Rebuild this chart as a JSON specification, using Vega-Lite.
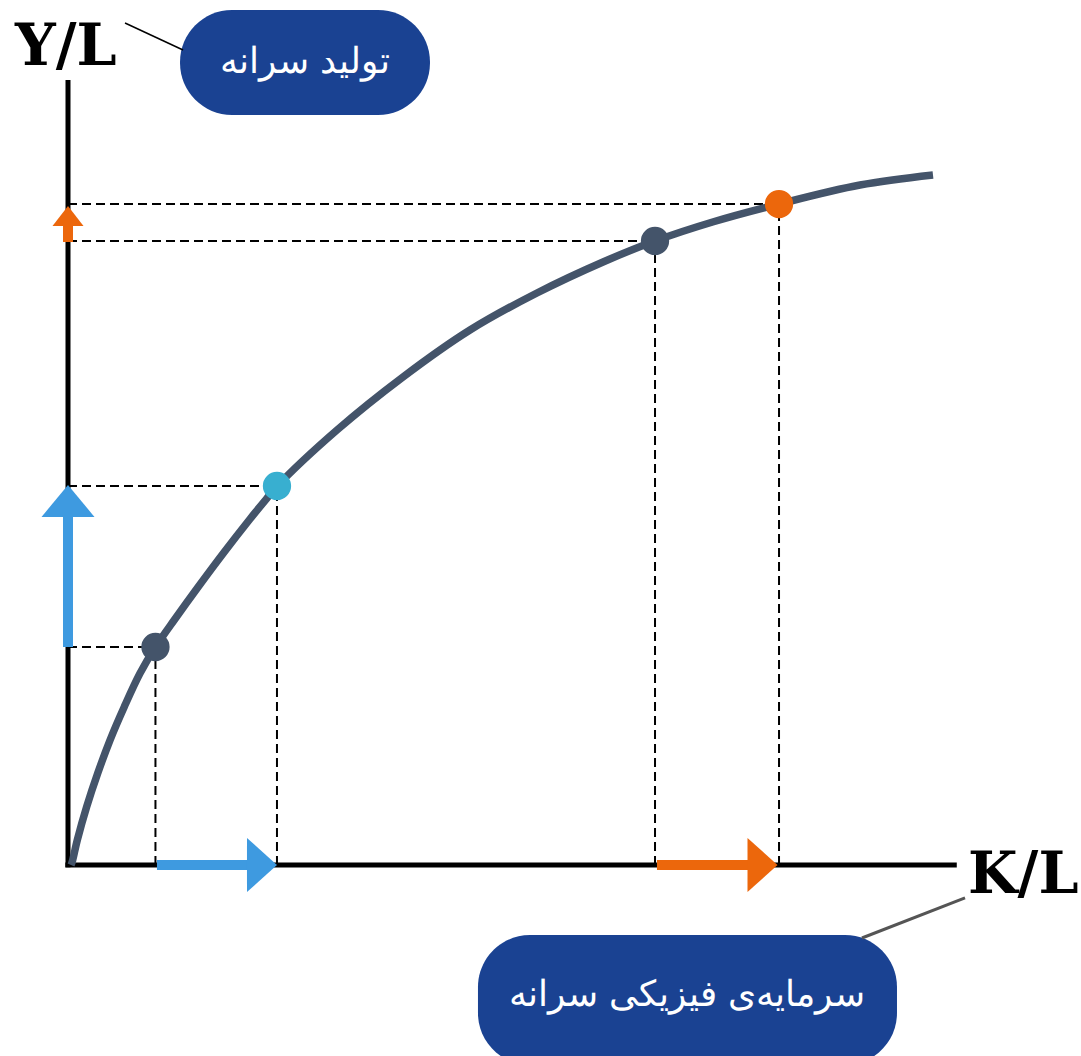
{
  "$schema": "https://vega.github.io/schema/vega-lite/v6.json",
  "width": 1081,
  "height": 1056,
  "autosize": {"type": "fit", "contains": "padding"},
  "padding": 0,
  "background": "white",
  "config": {"view": {"stroke": null}},
  "encoding": {
    "x": {"field": "x", "type": "quantitative", "scale": {"domain": [-7.666, 114.205], "nice": false, "zero": false}, "axis": null},
    "y": {"field": "y", "type": "quantitative", "scale": {"domain": [-24.331, 110.191], "nice": false, "zero": false}, "axis": null}
  },
  "layer": [
    {
      "data": {"values": [
        {"x": 12.63, "x2": 40.81, "y": 108.92, "y2": 95.54},
        {"x": 46.22, "x2": 93.46, "y": -8.92, "y2": -25.48}
      ]},
      "mark": {"type": "rect", "cornerRadius": 52, "color": "#1A4292", "clip": true},
      "encoding": {"x2": {"field": "x2"}, "y2": {"field": "y2"}}
    },
    {
      "data": {"values": [
        {"x": 6.43, "x2": 12.97, "y": 107.26, "y2": 103.82, "kind": "top"},
        {"x": 89.51, "x2": 101.13, "y": -9.30, "y2": -4.20, "kind": "bottom"}
      ]},
      "mark": {"type": "rule"},
      "encoding": {
        "x2": {"field": "x2"}, "y2": {"field": "y2"},
        "color": {"field": "kind", "type": "nominal", "scale": {"domain": ["blue", "orange", "dark", "cyan", "top", "bottom"], "range": ["#3E9AE0", "#EC670C", "#44546A", "#38AFD0", "#000000", "#555555"]}, "legend": null},
        "strokeWidth": {"field": "kind", "type": "nominal", "scale": {"domain": ["top", "bottom"], "range": [1.5, 3]}, "legend": null}
      }
    },
    {
      "data": {"values": [
        {"x": 0, "x2": 9.86, "y": 27.77, "y2": 27.77},
        {"x": 0, "x2": 23.56, "y": 48.28, "y2": 48.28},
        {"x": 0, "x2": 66.18, "y": 79.49, "y2": 79.49},
        {"x": 0, "x2": 80.16, "y": 84.20, "y2": 84.20},
        {"x": 9.86, "x2": 9.86, "y": 0, "y2": 27.77},
        {"x": 23.56, "x2": 23.56, "y": 0, "y2": 48.28},
        {"x": 66.18, "x2": 66.18, "y": 0, "y2": 79.49},
        {"x": 80.16, "x2": 80.16, "y": 0, "y2": 84.20}
      ]},
      "mark": {"type": "rule", "color": "#000000", "strokeWidth": 2, "strokeDash": [9, 5]},
      "encoding": {"x2": {"field": "x2"}, "y2": {"field": "y2"}}
    },
    {
      "data": {"values": [
        {"x": 0, "x2": 0, "y": -0.3, "y2": 100},
        {"x": -0.3, "x2": 100.2, "y": 0, "y2": 0}
      ]},
      "mark": {"type": "rule", "color": "#000000", "strokeWidth": 5},
      "encoding": {"x2": {"field": "x2"}, "y2": {"field": "y2"}}
    },
    {
      "data": {"values": [
        {"x": 0.34, "y": 0},
        {"x": 0.48, "y": 0.42},
        {"x": 1.05, "y": 3.18},
        {"x": 2.11, "y": 7.43},
        {"x": 3.35, "y": 11.68},
        {"x": 4.74, "y": 15.92},
        {"x": 6.35, "y": 20.17},
        {"x": 8.12, "y": 24.42},
        {"x": 9.86, "y": 27.77},
        {"x": 12.06, "y": 31.34},
        {"x": 14.69, "y": 35.45},
        {"x": 17.51, "y": 39.72},
        {"x": 20.52, "y": 44.08},
        {"x": 22.40, "y": 46.68},
        {"x": 23.56, "y": 48.24},
        {"x": 30.33, "y": 55.41},
        {"x": 37.77, "y": 62.17},
        {"x": 45.32, "y": 68.15},
        {"x": 52.87, "y": 72.87},
        {"x": 60.32, "y": 76.82},
        {"x": 66.18, "y": 79.49},
        {"x": 72.77, "y": 81.94},
        {"x": 80.16, "y": 84.20},
        {"x": 89.29, "y": 86.62},
        {"x": 97.52, "y": 87.90}
      ]},
      "mark": {"type": "line", "color": "#44546A", "strokeWidth": 7.5, "interpolate": "catmull-rom"},
      "encoding": {}
    },
    {
      "data": {"values": [
        {"x": 0, "x2": 0, "y": 27.77, "y2": 45.0, "kind": "blue"},
        {"x": 10.03, "x2": 21.0, "y": 0, "y2": 0, "kind": "blue"},
        {"x": 66.40, "x2": 77.2, "y": 0, "y2": 0, "kind": "orange"},
        {"x": 0, "x2": 0, "y": 79.36, "y2": 82.0, "kind": "orange"}
      ]},
      "mark": {"type": "rule", "strokeWidth": 10, "strokeCap": "butt"},
      "encoding": {
        "x2": {"field": "x2"}, "y2": {"field": "y2"},
        "color": {"field": "kind", "type": "nominal", "scale": {"domain": ["blue", "orange", "dark", "cyan", "top", "bottom"], "range": ["#3E9AE0", "#EC670C", "#44546A", "#38AFD0", "#000000", "#555555"]}, "legend": null}
      }
    },
    {
      "data": {"values": [{"x": 0, "y": 46.37, "kind": "blue"}]},
      "mark": {"type": "point", "filled": true, "opacity": 1, "shape": "M-1,0.6L1,0.6L0,-0.6Z", "size": 2809, "strokeWidth": 0},
      "encoding": {"color": {"field": "kind", "type": "nominal", "scale": {"domain": ["blue", "orange", "dark", "cyan", "top", "bottom"], "range": ["#3E9AE0", "#EC670C", "#44546A", "#38AFD0", "#000000", "#555555"]}, "legend": null}}
    },
    {
      "data": {"values": [{"x": 21.87, "y": 0, "kind": "blue"}, {"x": 78.30, "y": 0, "kind": "orange"}]},
      "mark": {"type": "point", "filled": true, "opacity": 1, "shape": "M-0.556,-1L0.556,0L-0.556,1Z", "size": 2916, "strokeWidth": 0},
      "encoding": {"color": {"field": "kind", "type": "nominal", "scale": {"domain": ["blue", "orange", "dark", "cyan", "top", "bottom"], "range": ["#3E9AE0", "#EC670C", "#44546A", "#38AFD0", "#000000", "#555555"]}, "legend": null}}
    },
    {
      "data": {"values": [{"x": 0, "y": 82.68, "kind": "orange"}]},
      "mark": {"type": "point", "filled": true, "opacity": 1, "shape": "M-1,0.645L1,0.645L0,-0.645Z", "size": 961, "strokeWidth": 0},
      "encoding": {"color": {"field": "kind", "type": "nominal", "scale": {"domain": ["blue", "orange", "dark", "cyan", "top", "bottom"], "range": ["#3E9AE0", "#EC670C", "#44546A", "#38AFD0", "#000000", "#555555"]}, "legend": null}}
    },
    {
      "data": {"values": [
        {"x": 9.86, "y": 27.77, "kind": "dark"},
        {"x": 23.56, "y": 48.28, "kind": "cyan"},
        {"x": 66.18, "y": 79.49, "kind": "dark"},
        {"x": 80.16, "y": 84.20, "kind": "orange"}
      ]},
      "mark": {"type": "point", "filled": true, "opacity": 1, "shape": "circle", "size": 800, "strokeWidth": 0},
      "encoding": {"color": {"field": "kind", "type": "nominal", "scale": {"domain": ["blue", "orange", "dark", "cyan", "top", "bottom"], "range": ["#3E9AE0", "#EC670C", "#44546A", "#38AFD0", "#000000", "#555555"]}, "legend": null}}
    },
    {
      "data": {"values": [
        {"x": -5.98, "y": 101.91, "label": "Y/L"},
        {"x": 101.47, "y": -3.57, "label": "K/L"}
      ]},
      "mark": {"type": "text", "font": "DejaVu Serif", "fontWeight": "bold", "fontSize": 57, "align": "left", "baseline": "alphabetic", "color": "#000000"},
      "encoding": {"text": {"field": "label"}}
    },
    {
      "data": {"values": [
        {"x": 26.72, "y": 102.29, "label": "تولید سرانه"},
        {"x": 69.79, "y": -16.56, "label": "سرمایه‌ی فیزیکی سرانه"}
      ]},
      "mark": {"type": "text", "font": "DejaVu Sans", "fontWeight": 200, "fontSize": 36, "align": "center", "baseline": "middle", "color": "#FFFFFF", "dir": "rtl"},
      "encoding": {"text": {"field": "label"}}
    }
  ]
}
